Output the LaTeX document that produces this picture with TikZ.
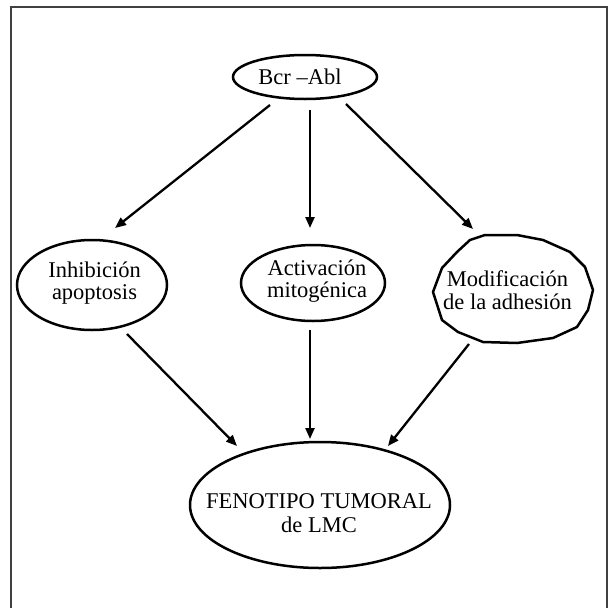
\documentclass[tikz,border=0pt]{standalone}
\usepackage{fontspec}
\setmainfont{Liberation Serif}
\usetikzlibrary{shapes.geometric,arrows.meta}
\begin{document}
\begin{tikzpicture}[x=1pt,y=-1pt,
  shp/.style={draw,line width=2.5pt,shape=ellipse,inner sep=0pt},
  txt/.style={align=center,inner sep=0pt,font=\fontsize{22.5}{22}\selectfont},
  arr/.style={line width=2.3pt,-{Triangle[length=11pt,width=9pt]}}]
\useasboundingbox (0,0) rectangle (608,608);
\clip (0,0) rectangle (608,608);
\draw[line width=2pt,black!75] (11,7) rectangle (607,640);
% shapes
\node[shp,minimum width=144pt,minimum height=44pt] (bcr) at (305,77) {};
\node[shp,minimum width=150pt,minimum height=90pt] (inh) at (92,285) {};
\node[shp,minimum width=144pt,minimum height=76pt] (act) at (313,283) {};
\node[shp,minimum width=260pt,minimum height=126pt] (fen) at (320,505) {};
\draw[line width=2.5pt,line join=round] (485,235) -- (517,235) -- (543,240) -- (570,252) -- (585,267)
  -- (593,290) -- (588,310) -- (577,327) -- (553,338) -- (517,343) -- (483,342)
  -- (458,332) -- (442,320) -- (433,292) -- (442,268) -- (457,252) -- (470,240) -- cycle;
\coordinate (mod) at (513,289);
% texts
\node[txt] (bcrT) at (300,77) {Bcr –Abl};
\node[txt] (inhT) at (94.5,283) {Inhibición\\apoptosis};
\node[txt] (actT) at (317,281) {Activación\\mitogénica};
\node[txt,font=\fontsize{22.5}{23}\selectfont] (modT) at (507.5,290) {Modificación\\de la adhesión};
\node[txt,font=\fontsize{22.5}{24}\selectfont] (fenT) at (319,513) {FENOTIPO TUMORAL\\de LMC};
% arrow end points
\coordinate (a1s) at (270,105); \coordinate (a1e) at (115,228);
\coordinate (a2s) at (310,110); \coordinate (a2e) at (310,228);
\coordinate (a3s) at (346,104); \coordinate (a3e) at (473,229);
\coordinate (a4s) at (127,334); \coordinate (a4e) at (237,446);
\coordinate (a5s) at (310,330); \coordinate (a5e) at (310,439);
\coordinate (a6s) at (469,344); \coordinate (a6e) at (388,446);
\draw[arr] (a1s) -- (a1e);
\draw[arr] (a2s) -- (a2e);
\draw[arr] (a3s) -- (a3e);
\draw[arr] (a4s) -- (a4e);
\draw[arr] (a5s) -- (a5e);
\draw[arr] (a6s) -- (a6e);
\end{tikzpicture}
\end{document}
